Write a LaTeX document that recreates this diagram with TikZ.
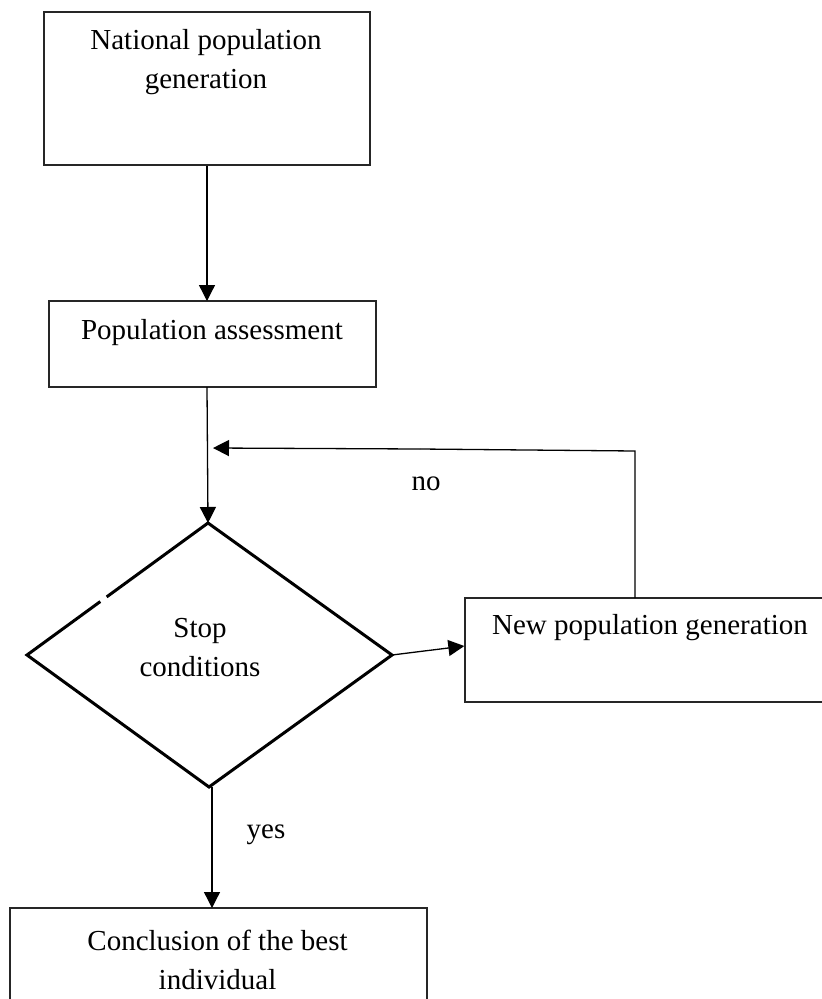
\documentclass[tikz,border=0pt]{standalone}
\usepackage{fontspec}
\setmainfont{Liberation Serif}
\usetikzlibrary{arrows.meta,calc}
\begin{document}
\begin{tikzpicture}[x=1pt,y=-1pt,
  box/.style={draw=black!85, line width=1.3pt, inner sep=0pt},
  lbl/.style={font=\fontsize{29}{39}\selectfont, align=center, inner sep=0pt},
  flow/.style={line width=1.3pt, -{Triangle[length=16pt,width=16pt]}},
  decision/.style={line width=3pt, line join=miter},
  ]
% page frame and clipping
\clip (0,0) rectangle (822,999);
\fill[white] (0,0) rectangle (822,999);

% process boxes
\node[box, minimum width=326pt, minimum height=153pt] (b1) at (207,88.5) {};
\node[box, minimum width=327pt, minimum height=86pt]  (b2) at (212.5,344) {};
\node[box, minimum width=380pt, minimum height=104pt] (b3) at (655,650) {};
\node[box, minimum width=417pt, minimum height=122pt] (b4) at (218.5,969) {};

% box texts
\node[lbl] (t1) at (206,62) {National population\\generation};
\node[lbl] (t2) at (212,333) {Population assessment};
\node[lbl] (t3) at (650,628) {New population generation};
\node[lbl] (t4) at (217.5,959.5) {Conclusion of the best\\individual};

% decision diamond (with a small break in its upper-left edge)
\coordinate (dt) at (208,523);
\coordinate (dl) at (27,655);
\coordinate (dr) at (392,655);
\coordinate (db) at (209,787);
\draw[decision] ($(dl)!0.405!(dt)$) -- (dl) -- (db) -- (dr) -- (dt) -- ($(dl)!0.44!(dt)$);
\node[lbl] (d) at (200,647.5) {Stop\\conditions};

% connectors
\draw[flow] (b1.south -| 207,0) -- (207,301);
\draw[flow] (207,387) -- (dt);
\coordinate (fbk) at (213,448);
\draw[line width=1.3pt] (635,598) -- (635,451) -- (420,449);
\draw[flow] (420,449) -- (fbk);
\draw[flow] (dr) -- ($(b3.west)+(0,-4)$);
\draw[flow] (212,787) -- (212,908);

% branch labels
\node[lbl, anchor=base] (no) at (426,490) {no};
\node[lbl, anchor=base] (yes) at (266,838) {yes};
\end{tikzpicture}
\end{document}
